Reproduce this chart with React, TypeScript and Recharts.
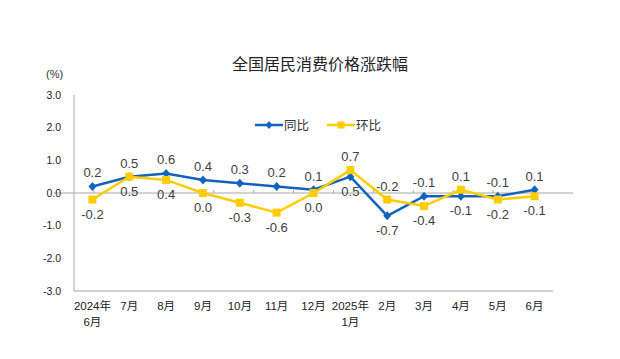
import React from "react";
import { ComposedChart, Line, XAxis, YAxis, ReferenceLine } from "recharts";

const months = ["2024年\n6月", "7月", "8月", "9月", "10月", "11月", "12月", "2025年\n1月", "2月", "3月", "4月", "5月", "6月"];
const yoy = [0.2, 0.5, 0.6, 0.4, 0.3, 0.2, 0.1, 0.5, -0.7, -0.1, -0.1, -0.1, 0.1];
const mom = [-0.2, 0.5, 0.4, 0.0, -0.3, -0.6, 0.0, 0.7, -0.2, -0.4, 0.1, -0.2, -0.1];
const yTicks = [-3, -2, -1, 0, 1, 2, 3];
const title = "全国居民消费价格涨跌幅";
const unit = "(%)";
const seriesNames = { yoy: "同比", mom: "环比" };

const BLUE = "#1262BF";
const YELLOW = "#FFCC00";
const AXIS = "#A6A6A6";

const data = months.map((m, i) => ({ m, yoy: yoy[i], mom: mom[i] }));

const labelFont = "'Liberation Sans', Arial, sans-serif";
const tickFont = "'Liberation Sans', 'Noto Sans CJK SC', sans-serif";

// plot width 479 split into 13 bands; half band padding keeps points at band centres
const HALF_BAND = 479 / months.length / 2;

function makeDot(key: "yoy" | "mom") {
  return (props: any) => {
    const { cx, cy, payload, index } = props;
    if (cx == null || cy == null) return <g key={`d-${key}-${index}`} />;
    const v = payload[key];
    const o = key === "yoy" ? payload.mom : payload.yoy;
    const above = v > o || (v === o && key === "yoy");
    const ty = above ? cy - 9 : cy + 19;
    const marker =
      key === "yoy" ? (
        <path d={`M${cx},${cy - 4.5} L${cx + 4},${cy} L${cx},${cy + 4.5} L${cx - 4},${cy} Z`} fill={BLUE} />
      ) : (
        <rect x={cx - 4} y={cy - 4} width={8} height={8} fill={YELLOW} />
      );
    return (
      <g key={`d-${key}-${index}`}>
        {marker}
        <text x={cx} y={ty} textAnchor="middle" fontSize={13} fill="#404040" fontFamily={labelFont}>
          {v.toFixed(1)}
        </text>
      </g>
    );
  };
}

const XTick = (props: any) => {
  const { x, y, payload } = props;
  const lines = String(payload.value).split("\n");
  return (
    <g>
      {lines.map((l: string, i: number) => (
        <text key={i} x={x} y={y + 11 + i * 16} textAnchor="middle" fontSize={11.5} fill="#222" fontFamily={tickFont}>
          {l}
        </text>
      ))}
    </g>
  );
};

const ZeroLine = (props: any) => {
  const { x1, x2, y1 } = props;
  const n = months.length;
  const w = (x2 - x1) / (n - 1);
  const ticks = [];
  for (let k = 1; k < n; k++) {
    const x = x1 + (k - 0.5) * w;
    ticks.push(<line key={k} x1={x} x2={x} y1={y1} y2={y1 - 3} stroke={AXIS} strokeWidth={1} />);
  }
  return (
    <g>
      <line x1={x1 - w / 2} x2={x2 + w / 2} y1={y1} y2={y1} stroke={AXIS} strokeWidth={1} />
      {ticks}
    </g>
  );
};

const LegendIcon = ({ color, shape }: { color: string; shape: "diamond" | "square" }) => (
  <svg width={28} height={10} style={{ display: "block" }}>
    <line x1={0} x2={28} y1={5} y2={5} stroke={color} strokeWidth={2.5} />
    {shape === "diamond" ? (
      <path d="M14,1 L17.5,5 L14,9 L10.5,5 Z" fill={color} />
    ) : (
      <rect x={10.5} y={1.5} width={7} height={7} fill={color} />
    )}
  </svg>
);

export default function App() {
  return (
    <div style={{ position: "absolute", left: 0, top: 0, width: 620, height: 359, background: "#fff", fontFamily: "'Noto Sans CJK SC', sans-serif" }}>
      <div style={{ position: "absolute", left: 0, width: 640, top: 52, textAlign: "center", fontSize: 16, color: "#222", lineHeight: "22px" }}>
        {title}
      </div>
      <div style={{ position: "absolute", left: 46, top: 67, fontSize: 11, color: "#333", fontFamily: tickFont, lineHeight: "14px" }}>
        {unit}
      </div>
      <div style={{ position: "absolute", left: 255, top: 116, display: "flex", alignItems: "center", fontSize: 12.5, color: "#333", lineHeight: "18px" }}>
        <LegendIcon color={BLUE} shape="diamond" />
        <span style={{ marginLeft: 1 }}>{seriesNames.yoy}</span>
        <span style={{ width: 18 }} />
        <LegendIcon color={YELLOW} shape="square" />
        <span style={{ marginLeft: 1 }}>{seriesNames.mom}</span>
      </div>
      <div style={{ position: "absolute", left: 0, top: 0 }}>
        <ComposedChart width={620} height={359} data={data} margin={{ top: 95, right: 67, bottom: 38, left: 0 }}>
          <XAxis dataKey="m" xAxisId="top" orientation="top" height={0} tick={false} tickLine={false} axisLine={{ stroke: AXIS }} padding={{ left: HALF_BAND, right: HALF_BAND }} />
          <XAxis
            dataKey="m"
            height={30}
            interval={0}
            tickLine={false}
            axisLine={{ stroke: AXIS }}
            tick={<XTick />}
            padding={{ left: HALF_BAND, right: HALF_BAND }}
          />
          <YAxis
            domain={[-3, 3]}
            ticks={yTicks}
            width={74}
            tickLine={false}
            tickSize={0}
            tickMargin={13}
            axisLine={{ stroke: AXIS }}
            tickFormatter={(v: number) => v.toFixed(1)}
            tick={{ fontSize: 10.5, fill: "#222", fontFamily: tickFont }}
          />
          <YAxis yAxisId="r" orientation="right" domain={[-3, 3]} width={0} tick={false} tickLine={false} axisLine={{ stroke: AXIS }} />
          <ReferenceLine y={0} shape={<ZeroLine />} ifOverflow="extendDomain" />
          <Line dataKey="yoy" stroke={BLUE} strokeWidth={2.5} dot={makeDot("yoy")} activeDot={false} isAnimationActive={false} />
          <Line dataKey="mom" stroke={YELLOW} strokeWidth={2.5} dot={makeDot("mom")} activeDot={false} isAnimationActive={false} />
        </ComposedChart>
      </div>
    </div>
  );
}
